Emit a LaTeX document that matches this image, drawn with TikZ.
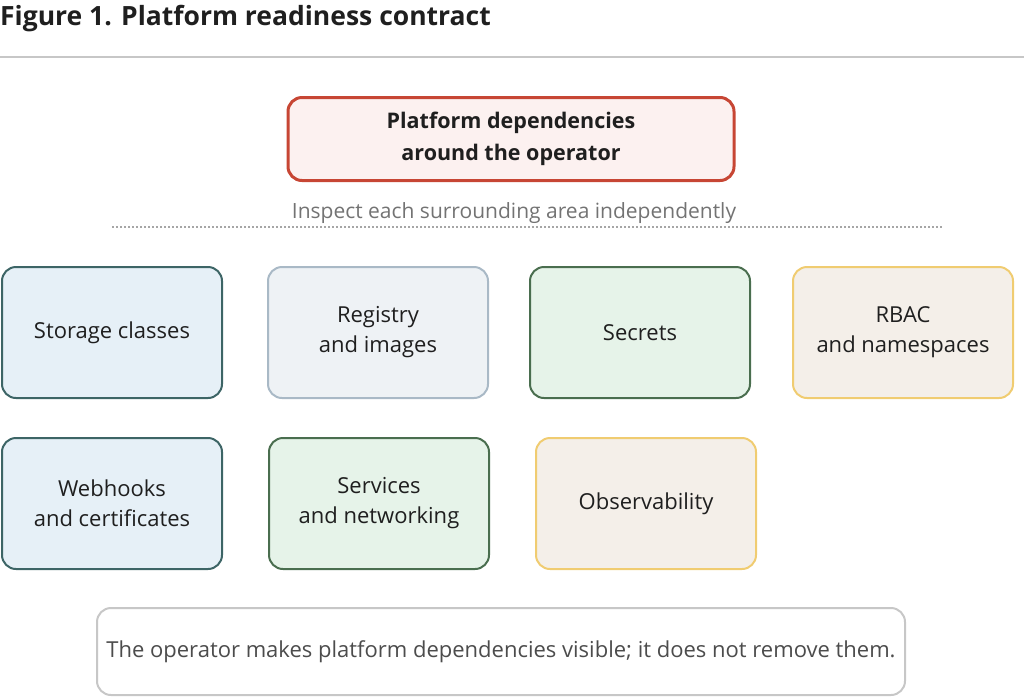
\documentclass[tikz,border=0pt]{standalone}
\usepackage{fontspec}
\setmainfont{Open Sans}
\definecolor{redB}{HTML}{C74634}
\definecolor{redF}{HTML}{FCF1F0}
\definecolor{tealB}{HTML}{3D6566}
\definecolor{tealF}{HTML}{E6F0F7}
\definecolor{greyB}{HTML}{A9B9C6}
\definecolor{greyF}{HTML}{EEF2F5}
\definecolor{greenB}{HTML}{4A6E4F}
\definecolor{greenF}{HTML}{E6F3E9}
\definecolor{sandB}{HTML}{F0CC71}
\definecolor{sandF}{HTML}{F4EFE9}
\definecolor{txt}{HTML}{1F1F1F}
\begin{document}
\begin{tikzpicture}[x=1pt,y=-1pt,
  card/.style={draw, rounded corners=14pt, line width=2pt, minimum width=220pt, minimum height=131pt, align=center, text=txt, font=\fontsize{22}{30}\selectfont, anchor=north west},
  tealcard/.style={card, draw=tealB, fill=tealF},
  greycard/.style={card, draw=greyB, fill=greyF},
  greencard/.style={card, draw=greenB, fill=greenF},
  sandcard/.style={card, draw=sandB, fill=sandF}]
\useasboundingbox (0,0) rectangle (1024,697);
\node[anchor=west, font=\bfseries\fontsize{26.5}{30}\selectfont, text=txt, inner sep=0pt] (title) at (0,19) {Figure 1. Platform readiness contract};
\coordinate (rl) at (0,57);
\coordinate (rr) at (1024,57);
\draw[line width=1.5pt, draw=black!22] (rl) -- (rr);
\node[draw=redB, fill=redF, line width=3pt, rounded corners=14pt, minimum width=446pt, minimum height=83pt, align=center, text=txt, font=\bfseries\fontsize{21.5}{32}\selectfont] (top) at (511,139) {Platform dependencies\\around the operator};
\node[text=black!55, font=\fontsize{21}{24}\selectfont] (sub) at (514,213) {Inspect each surrounding area independently};
\coordinate (dl) at (112,227);
\coordinate (dr) at (943,227);
\draw[black!35, line width=1.2pt, dash pattern=on 2pt off 2pt] (dl) -- (dr);
\node[tealcard] (storage) at (1,266) {Storage classes};
\node[greycard] (registry) at (267,266) {Registry\\and images};
\node[greencard] (secrets) at (529,266) {Secrets};
\node[sandcard] (rbac) at (792,266) {RBAC\\and namespaces};
\node[tealcard] (webhooks) at (1,437) {Webhooks\\and certificates};
\node[greencard] (services) at (268,437) {Services\\and networking};
\node[sandcard] (obs) at (535,437) {Observability};
\node[draw=black!22, fill=white, line width=2pt, rounded corners=14pt, minimum width=808pt, minimum height=87pt, text=black!70, font=\fontsize{22}{24}\selectfont, anchor=north west] (note) at (96,607) {The operator makes platform dependencies visible; it does not remove them.};
\end{tikzpicture}
\end{document}
